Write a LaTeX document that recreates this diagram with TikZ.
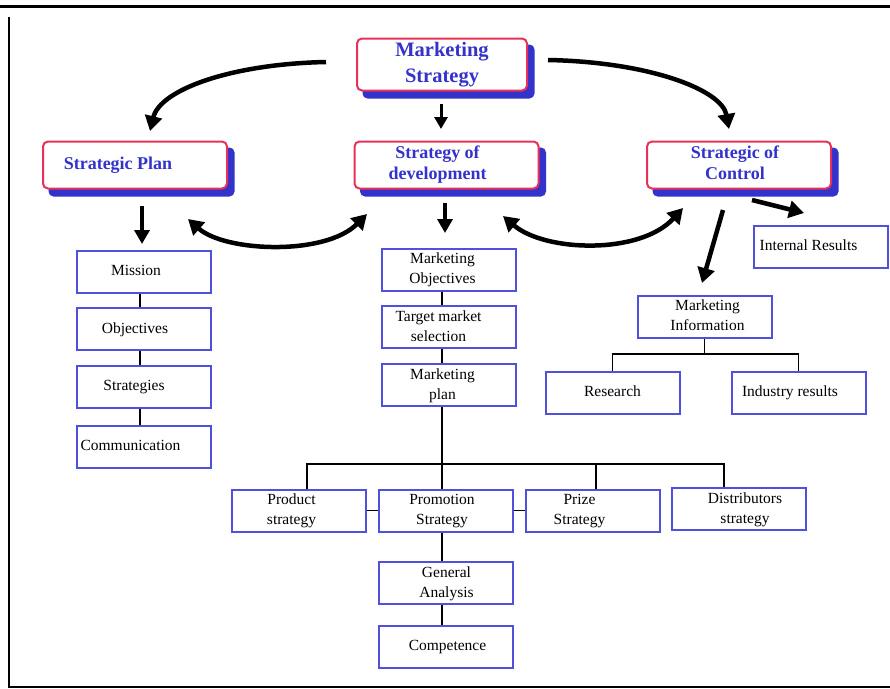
\documentclass[tikz,border=0pt]{standalone}
\usepackage{fontspec}
\setmainfont{Liberation Serif}
\usetikzlibrary{arrows.meta,calc}
\definecolor{headRed}{RGB}{232,48,88}
\definecolor{inkBlue}{RGB}{51,51,204}
\definecolor{boxBlue}{RGB}{80,80,220}
% centred lines, moved sideways by #1 pt
\newcommand\boxtext[2]{\hspace*{#1pt}\hspace*{#1pt}\begin{tabular}{@{}c@{}}#2\end{tabular}}
\pgfdeclarelayer{bg}
\pgfsetlayers{bg,main}
\begin{document}
\begin{tikzpicture}[x=1pt,y=-1pt,
  headbox/.style={draw=headRed, line width=2pt, rounded corners=5pt, fill=white,
    inner sep=0pt, text=inkBlue, minimum width=184pt, minimum height=47pt,
    font=\bfseries\fontsize{18}{21}\selectfont},
  itembox/.style={draw=boxBlue, line width=2pt, fill=white, inner sep=0pt,
    minimum width=134pt, minimum height=42pt, font=\fontsize{15.5}{20}\selectfont},
  link/.style={line width=1.5pt, black},
  bigarrow/.style={line width=4.5pt, -{Triangle[length=15pt,width=17pt]}},
  twoway/.style={line width=4.5pt, {Triangle[length=15pt,width=17pt]}-{Triangle[length=15pt,width=17pt]}},
  droparrow/.style={line width=4pt, -{Triangle[length=14pt,width=15pt]}},
  shade/.style={fill=inkBlue, rounded corners=5pt}]
\useasboundingbox (0,0) rectangle (890,688);

% page frame
\draw[line width=3pt] (0,6.5) -- (890,6.5);
\draw[line width=2pt] (8.5,17) -- (8.5,686.5) -- (890,686.5);

% heading boxes
\node[headbox, minimum width=170pt, minimum height=51pt,
  font=\bfseries\fontsize{20.5}{26}\selectfont] (ms) at (442,64.5) {\boxtext{0}{Marketing\\Strategy}};
\node[headbox] (sp) at (135,165) {\boxtext{-17}{Strategic Plan}};
\node[headbox] (sd) at (446.5,165) {\boxtext{-9}{Strategy of\\development}};
\node[headbox] (sc) at (739,165) {\boxtext{-4}{Strategic of\\Control}};

\begin{pgfonlayer}{bg}
\foreach \n in {ms,sp,sd,sc}
  \fill[shade] ([shift={(6.5pt,-7pt)}]\n.south west) rectangle ([shift={(6.5pt,-7pt)}]\n.north east);
\end{pgfonlayer}

% strategic plan column
\node[itembox] (mission) at (143.5,271.5) {\boxtext{-7.5}{Mission}};
\node[itembox] (objL) at (143.5,329) {\boxtext{-8.5}{Objectives}};
\node[itembox] (strat) at (143.5,386.5) {\boxtext{-9.5}{Strategies}};
\node[itembox] (comm) at (143.5,446.5) {\boxtext{-13}{Communication}};

% development column
\node[itembox] (mo) at (448.5,269.5) {\boxtext{-6}{Marketing\\Objectives}};
\node[itembox] (tms) at (448.5,327) {\boxtext{-10}{Target market\\selection}};
\node[itembox] (mp) at (448.5,385) {\boxtext{-6}{Marketing\\plan}};

\node[itembox] (prod) at (298.5,510.5) {\boxtext{-7}{Product\\strategy}};
\node[itembox] (prom) at (445.5,510.5) {\boxtext{-3.5}{Promotion\\Strategy}};
\node[itembox] (prize) at (592.5,510.5) {\boxtext{-13}{Prize\\Strategy}};
\node[itembox] (dist) at (739,509) {\boxtext{6}{Distributors\\strategy}};
\node[itembox] (ga) at (445.5,583) {\boxtext{1}{General\\Analysis}};
\node[itembox] (comp) at (445.5,646.5) {\boxtext{2}{Competence}};

% control column
\node[itembox] (ir) at (820.5,246.5) {\boxtext{-12}{Internal Results}};
\node[itembox] (mi) at (704.5,316.5) {\boxtext{3}{Marketing\\Information}};
\node[itembox] (res) at (612.5,392.5) {\boxtext{0}{Research}};
\node[itembox] (ind) at (798.5,392.5) {\boxtext{-8.5}{Industry results}};

% free ends of the curved arrows
\coordinate (msL) at (326,62);
\coordinate (spIn) at (150,131);
\coordinate (msR) at (548,60);
\coordinate (scIn) at (729,129);
\coordinate (msDown) at (441,104);
\coordinate (sdIn) at (441,129);
\coordinate (spOut) at (142,206);
\coordinate (missionIn) at (142,244);
\coordinate (sdOut) at (445,203);
\coordinate (moIn) at (445,233);
\coordinate (swapL1) at (188,219);
\coordinate (swapL2) at (367,214);
\coordinate (swapR1) at (503,216);
\coordinate (swapR2) at (683,208);
\coordinate (scOut1) at (752,200);
\coordinate (irIn) at (804,213);
\coordinate (scOut2) at (723,210);
\coordinate (miIn) at (702,283);

% heavy arrows
\draw[bigarrow] (msL) .. controls (230,64) and (160,90) .. (spIn);
\draw[bigarrow] (msR) .. controls (650,62) and (722,90) .. (scIn);
\draw[line width=3pt, -{Triangle[length=12pt,width=13pt]}] (msDown) -- (sdIn);
\draw[droparrow] (spOut) -- (missionIn);
\draw[droparrow] (sdOut) -- (moIn);
\draw[twoway] (swapL1) .. controls (225,252) and (325,256) .. (swapL2);
\draw[twoway] (swapR1) .. controls (545,252) and (640,255) .. (swapR2);
\draw[bigarrow] (scOut1) -- (irIn);
\draw[bigarrow] (scOut2) -- (miIn);

% tree links
\draw[link] ([xshift=-3.5pt]mission.south) -- ([xshift=-3.5pt]objL.north);
\draw[link] ([xshift=-3.5pt]objL.south) -- ([xshift=-3.5pt]strat.north);
\draw[link] ([xshift=-3.5pt]strat.south) -- ([xshift=-3.5pt]comm.north);

\draw[link] ([xshift=-6.5pt]mo.south) -- ([xshift=-6.5pt]tms.north);
\draw[link] ([xshift=-6.5pt]tms.south) -- ([xshift=-6.5pt]mp.north);
\draw[link] ([xshift=-6.5pt]mp.south) -- ([xshift=-3.5pt]prom.north);
\coordinate (bar) at (442,464);
\draw[link] ([xshift=8.5pt]prod.north) |- (bar) -| ([xshift=-15pt]dist.north);
\draw[link] ([xshift=3.5pt]prize.north) -- ([xshift=3.5pt]prize.north |- bar);
\draw[link] (prod.east) -- (prom.west);
\draw[link] (prom.east) -- (prize.west);
\draw[link] ([xshift=-3.5pt]prom.south) -- ([xshift=-3.5pt]ga.north);
\draw[link] ([xshift=-3.5pt]ga.south) -- ([xshift=-3.5pt]comp.north);

\coordinate (miBar) at (705,354);
\draw[link] (mi.south) -- (mi.south |- miBar);
\draw[link] (res.north) |- (miBar) -| (ind.north);
\end{tikzpicture}
\end{document}
